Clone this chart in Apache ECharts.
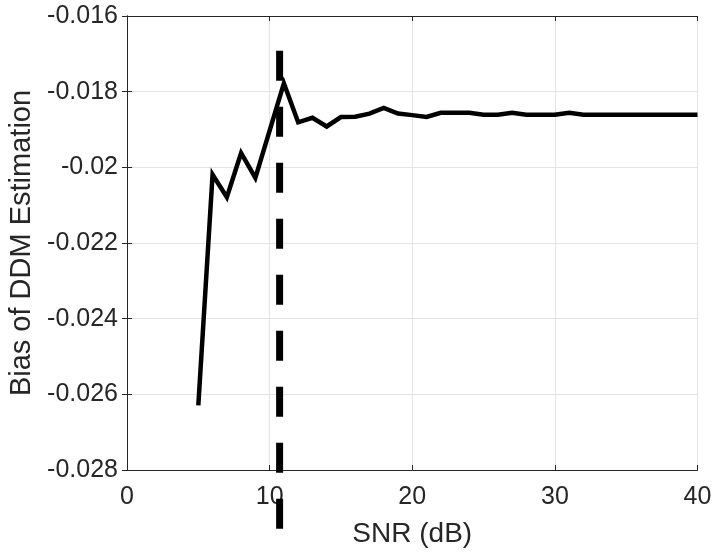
<!DOCTYPE html>
<html>
<head>
<meta charset="utf-8">
<script src="https://cdn.jsdelivr.net/npm/echarts@6/dist/echarts.min.js"></script>
<style>
html,body{margin:0;padding:0;background:#fff;}
#chart{width:715px;height:552px;}
</style>
</head>
<body>
<div id="chart"></div>
<script>
var snrValues = [5,6,7,8,9,10,11,12,13,14,15,16,17,18,19,20,21,22,23,24,25,26,27,28,29,30,31,32,33,34,35,36,37,38,39,40];
var biasValues = [-0.02629,-0.02019,-0.02079,-0.01962,-0.02028,-0.01903,-0.01778,-0.01881,-0.01869,-0.01892,-0.01867,-0.01866,-0.01858,-0.01843,-0.01858,-0.01862,-0.01867,-0.01856,-0.01856,-0.01856,-0.01861,-0.01861,-0.01856,-0.01861,-0.01861,-0.01861,-0.01856,-0.01861,-0.01861,-0.01861,-0.01861,-0.01861,-0.01861,-0.01861,-0.01861,-0.01861];
var thresholdX = [10.7, 10.7];
var thresholdY = [-0.01692, -0.0296];
var xRange = [0, 40, 10];
var yRange = [-0.028, -0.016, 0.002];
var xLabel = 'SNR (dB)';
var yLabel = 'Bias of DDM Estimation';

var txt = '#262626';
var font = 'Liberation Sans, Arial, sans-serif';
function mkAxis(base, extra) { return Object.assign({}, base, extra); }
var xBase = {type:'value', min:xRange[0], max:xRange[1], interval:xRange[2],
  axisLine:{show:true, lineStyle:{color:txt, width:1}},
  axisTick:{show:true, inside:true, length:5, lineStyle:{color:txt}}};
var yBase = {type:'value', min:yRange[0], max:yRange[1], interval:yRange[2],
  axisLine:{show:true, lineStyle:{color:txt, width:1}},
  axisTick:{show:true, inside:true, length:5, lineStyle:{color:txt}}};

var chart = echarts.init(document.getElementById('chart'), null, {renderer:'canvas'});
chart.setOption({
  animation:false,
  backgroundColor:'#fff',
  grid:{left:127, right:17.5, top:16, bottom:82, containLabel:false, outerBoundsMode:'none'},
  xAxis:[
    mkAxis(xBase, {position:'bottom', name:xLabel, nameLocation:'middle', nameGap:50,
      nameTextStyle:{color:txt, fontSize:28, fontFamily:font},
      axisLabel:{color:txt, fontSize:25, fontFamily:font, margin:15},
      splitLine:{show:true, lineStyle:{color:'#e3e3e3', width:1}}}),
    mkAxis(xBase, {position:'top', axisLabel:{show:false}, splitLine:{show:false}})
  ],
  yAxis:[
    mkAxis(yBase, {position:'left', name:yLabel, nameLocation:'middle', nameGap:88,
      nameTextStyle:{color:txt, fontSize:29, fontFamily:font},
      axisLabel:{color:txt, fontSize:25, fontFamily:font, margin:9},
      splitLine:{show:true, lineStyle:{color:'#e3e3e3', width:1}}}),
    mkAxis(yBase, {position:'right', axisLabel:{show:false}, splitLine:{show:false}})
  ],
  series:[
    {type:'line', xAxisIndex:0, yAxisIndex:0, showSymbol:false, symbol:'none',
     data:snrValues.map(function(x,i){return [x, biasValues[i]];}),
     lineStyle:{color:'#000', width:4.5, join:'miter'}, z:3},
    {type:'line', xAxisIndex:0, yAxisIndex:0, showSymbol:false, symbol:'none', clip:false,
     data:thresholdX.map(function(x,i){return [x, thresholdY[i]];}),
     lineStyle:{color:'#000', width:7, type:[30,26], cap:'butt'}, z:4}
  ]
});
</script>
</body>
</html>
